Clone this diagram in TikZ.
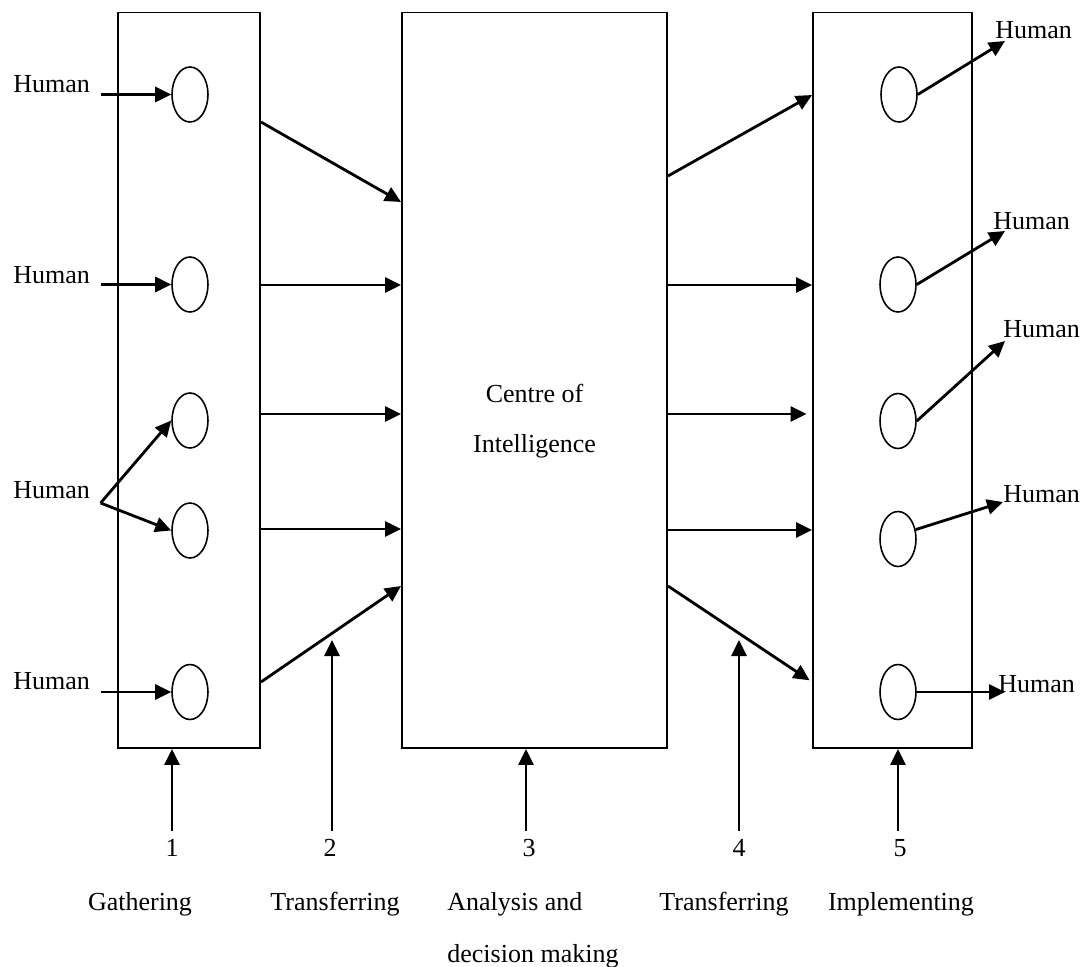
\documentclass[tikz,border=0pt]{standalone}
\usepackage{fontspec}
\setmainfont{Liberation Serif}
\usetikzlibrary{arrows.meta,fit,shapes.geometric}

\begin{document}
\begin{tikzpicture}[x=0.02cm, y=-0.02cm,
  box/.style={draw, line width=1.1pt, inner sep=0pt},
  oval/.style={draw, ellipse, line width=0.9pt, inner sep=0pt,
               minimum width=0.72cm, minimum height=1.1cm},
  arr/.style={line width=1.6pt, -{Triangle[length=0.32cm, width=0.3cm]}},
  lbl/.style={font=\fontsize{14.8}{18}\selectfont, inner sep=0pt},
]
\useasboundingbox (0,0) rectangle (1089,967);

% three stage boxes
\node[box, fit={(118,12.5) (260,748)}] (L) {};
\node[box, fit={(402,12.5) (667,748)}] (C) {};
\node[box, fit={(813,12.5) (972,748)}] (R) {};

\node[lbl, anchor=base] (ci1) at (534.5,402) {Centre of};
\node[lbl, anchor=base] (ci2) at (534.5,452) {Intelligence};

% input ovals
\node[oval] (L1) at (190,94.5) {};
\node[oval] (L2) at (190,284.5) {};
\node[oval] (L3) at (190,420.5) {};
\node[oval] (L4) at (190,530.5) {};
\node[oval] (L5) at (190,692) {};

% output ovals
\node[oval] (R1) at (899,94.5) {};
\node[oval] (R2) at (898,284.5) {};
\node[oval] (R3) at (898,421) {};
\node[oval] (R4) at (898,539) {};
\node[oval] (R5) at (898,692) {};

% human sources
\node[lbl, anchor=base west] (hl1) at (13,92) {Human};
\node[lbl, anchor=base west] (hl2) at (13,283) {Human};
\node[lbl, anchor=base west] (hl3) at (13,498) {Human};
\node[lbl, anchor=base west] (hl4) at (13,689) {Human};
\coordinate (s1) at (100.5,94.5);
\coordinate (s2) at (100.5,284.5);
\coordinate (s3) at (100.6,503);
\coordinate (s4) at (100.5,692);
\draw[arr] (s1) -- (L1.west);
\draw[arr] (s2) -- (L2.west);
\draw[arr] (s3) -- (L3.west);
\draw[arr] (s3) -- (L4.west);
\draw[arr] (s4) -- (L5.west);

% human receivers
\node[lbl, anchor=base west] (hr1) at (995,38) {Human};
\node[lbl, anchor=base west] (hr2) at (993,229) {Human};
\node[lbl, anchor=base west] (hr3) at (1003,337) {Human};
\node[lbl, anchor=base west] (hr4) at (1003,502) {Human};
\node[lbl, anchor=base west] (hr5) at (998,692) {Human};
\coordinate (t1) at (1005,41);
\coordinate (t2) at (1005,231);
\coordinate (t3) at (1005,341);
\coordinate (t4) at (1003,502);
\coordinate (t5) at (1005,692);
\draw[arr] (R1.east) -- (t1);
\draw[arr] (R2.east) -- (t2);
\draw[arr] (R3.east) -- (t3);
\draw[arr] (R4.28) -- (t4);
\draw[arr] (R5.east) -- (t5);

% transfer to the centre
\draw[arr] (L.east |- 0,122) -- (C.west |- 0,202);
\draw[arr] (L.east |- 0,285) -- (C.west |- 0,285);
\draw[arr] (L.east |- 0,414) -- (C.west |- 0,414);
\draw[arr] (L.east |- 0,529) -- (C.west |- 0,529);
\draw[arr] (L.east |- 0,682) -- (C.west |- 0,586);

% transfer from the centre
\draw[arr] (C.east |- 0,176) -- (R.west |- 0,95);
\draw[arr] (C.east |- 0,285) -- (R.west |- 0,285);
\draw[arr, shorten >=0.11cm] (C.east |- 0,414) -- (R.west |- 0,414);
\draw[arr] (C.east |- 0,530) -- (R.west |- 0,530);
\draw[arr, shorten >=0.06cm] (C.east |- 0,586) -- (R.west |- 0,682);

% stage pointers
\node[lbl, anchor=base] (n1) at (172,856) {1};
\node[lbl, anchor=base] (n2) at (330,856) {2};
\node[lbl, anchor=base] (n3) at (529,856) {3};
\node[lbl, anchor=base] (n4) at (739,856) {4};
\node[lbl, anchor=base] (n5) at (900,856) {5};
\coordinate (p1) at (172,831);
\coordinate (p2) at (332,831);
\coordinate (p3) at (526,831);
\coordinate (p4) at (739,831);
\coordinate (p5) at (898,831);
\coordinate (q2) at (332,640);
\coordinate (q4) at (739,640);
\draw[arr] (p1) -- (p1 |- L.south);
\draw[arr] (p2) -- (q2);
\draw[arr] (p3) -- (p3 |- C.south);
\draw[arr] (p4) -- (q4);
\draw[arr] (p5) -- (p5 |- R.south);

% stage names
\node[lbl, anchor=base] (g1) at (140,910) {Gathering};
\node[lbl, anchor=base] (g2) at (335,910) {Transferring};
\node[lbl, anchor=base west] (g3) at (447,910) {Analysis and};
\node[lbl, anchor=base west] (g3b) at (447,962) {decision making};
\node[lbl, anchor=base] (g4) at (724,910) {Transferring};
\node[lbl, anchor=base] (g5) at (901,910) {Implementing};
\end{tikzpicture}
\end{document}
